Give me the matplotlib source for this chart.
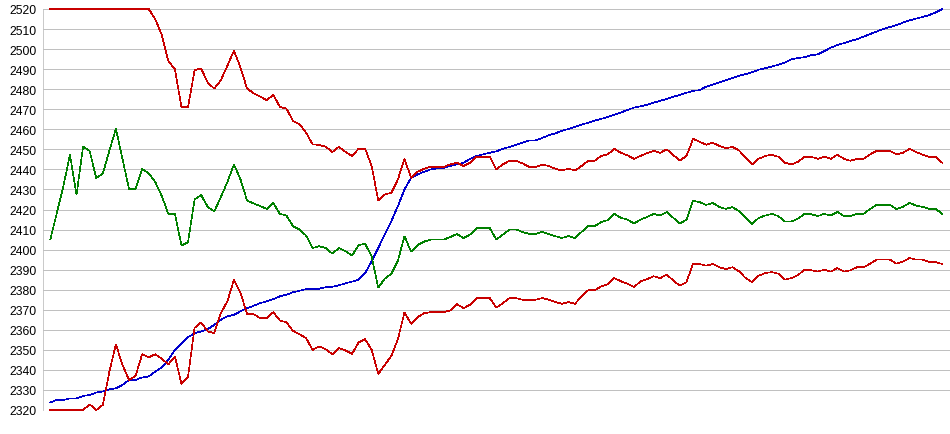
import matplotlib
matplotlib.use("Agg")
import matplotlib.pyplot as plt
from matplotlib.ticker import MultipleLocator

# ─────────────────────────────────────────────
#  DATA  (one value per bar)
# ─────────────────────────────────────────────
upper_band = [
    2520, 2520, 2520, 2520, 2520, 2520, 2520, 2520, 2520, 2520, 2520, 2520, 2520, 2520, 2520, 2520,
    2515, 2507, 2494, 2490, 2471, 2471, 2489.5,
    2490.3, 2483.3, 2480.3, 2484.5, 2491.7, 2499.2, 2490.8, 2480.3, 2478, 2476.3, 2474.5, 2477.2,
    2471.2, 2470.3, 2464.2, 2462.5, 2458.3, 2452.5, 2452.2, 2451.3, 2448.7, 2451.3, 2448.7,
    2446.7, 2450.3, 2450.3, 2441.7, 2424.5, 2427.5, 2428.3, 2435, 2445.3, 2435.8, 2438.8, 2440.3,
    2441.3, 2441.3, 2441.3, 2442.5, 2443.3, 2441.7, 2443.3, 2446.3, 2446.3, 2446.3,
    2440, 2442.5, 2444.3, 2444.3, 2443, 2441.3, 2441.3, 2442.3, 2441.7, 2440.3, 2439.5, 2440.3,
    2439.5, 2441.7, 2444.3, 2444.3, 2446.7, 2447.5, 2450.2, 2448.3, 2447, 2445.3, 2446.7, 2448.2,
    2449.2, 2448.3, 2450, 2447, 2444.5, 2446.7, 2455.2, 2453.8, 2452.3, 2453.3, 2451.7, 2450.5,
    2451.2, 2449.5, 2445.8, 2442.5, 2445.3, 2446.7, 2447.3, 2446.3, 2443.3, 2442.5, 2443.8,
    2446.3, 2446.3, 2445.3, 2446.3, 2445.3, 2447.3, 2445.3, 2444.3, 2445.3, 2445.3, 2447.5,
    2449.3, 2449.3, 2449.3, 2447.5, 2448.3, 2450.2, 2448.7, 2447.3, 2446.3, 2446.3, 2443.3,
]

middle_band = [
    2405, 2418.3, 2431.7, 2447.3, 2427.3, 2451.5, 2449.2, 2435.7, 2437.8, 2449.2, 2460.3, 2445.3,
    2430.3, 2430.3, 2440.3, 2438, 2433.7, 2426.7, 2417.8, 2417.8, 2402, 2403.7, 2425,
    2427.2, 2421.3, 2419, 2426.2, 2433.7, 2442.5, 2435, 2424.5, 2423, 2421.7, 2420.3, 2423.2,
    2417.8, 2417, 2411.7, 2410, 2407, 2400.8, 2401.7, 2400.8, 2398, 2400.8, 2399.2,
    2397, 2402.2, 2403, 2396.5, 2381, 2385.5, 2388, 2394.5, 2406.7, 2399, 2402.3, 2404,
    2405, 2405, 2405, 2406.3, 2407.8, 2405.7, 2407.5, 2410.8, 2410.8, 2410.8,
    2405, 2407.5, 2410, 2410, 2408.8, 2407.8, 2407.8, 2408.8, 2407.8, 2406.7, 2405.8, 2406.7,
    2405.8, 2408.8, 2411.7, 2411.7, 2413.7, 2414.7, 2417.8, 2415.8, 2415, 2413, 2415, 2416.3,
    2417.8, 2417, 2418.8, 2415.8, 2413, 2415, 2424.3, 2423.7, 2422.3, 2423.3, 2421.3, 2420.3,
    2421.2, 2419.2, 2415.8, 2412.8, 2415.8, 2417, 2417.8, 2416.7, 2414, 2414, 2415.5,
    2417.8, 2417.7, 2416.7, 2417.8, 2417, 2418.8, 2416.7, 2416.7, 2417.8, 2417.8, 2420.3,
    2422.3, 2422.3, 2422.3, 2420.3, 2421.3, 2423.3, 2422, 2421.3, 2420.3, 2420.3, 2417.8,
]

lower_band = [
    2320, 2320, 2320, 2320, 2320, 2320, 2322.8, 2320, 2322.5, 2339, 2352.8, 2342.5,
    2335, 2337, 2347.8, 2346.3, 2347.8, 2345.5, 2342.8, 2346.7, 2333, 2336.7, 2361,
    2363.7, 2359.2, 2358.3, 2368.3, 2374.2, 2385, 2378.3, 2368, 2367.8, 2365.8, 2365.8, 2368.8,
    2364.7, 2363.7, 2359.5, 2357.8, 2355.8, 2350, 2351.7, 2350.3, 2347.8, 2350.8, 2349.7,
    2348, 2353.7, 2355.3, 2350, 2338, 2342.5, 2347, 2355.3, 2368.7, 2363, 2366.3, 2368.3,
    2368.8, 2368.8, 2368.8, 2369.7, 2372.8, 2370.8, 2372.5, 2375.8, 2375.8, 2375.8,
    2371, 2373.3, 2375.8, 2375.8, 2375, 2375, 2375, 2375.8, 2375, 2373.8, 2373, 2373.8,
    2373, 2376.7, 2379.7, 2379.7, 2381.7, 2382.8, 2385.8, 2384.2, 2383, 2381.3, 2384.2, 2385.3,
    2386.7, 2385.8, 2387.5, 2384.5, 2382, 2383.8, 2393, 2392.8, 2392, 2392.8, 2391.2, 2390.3,
    2391.2, 2389.2, 2385.8, 2383.8, 2387, 2388.3, 2388.8, 2388, 2385, 2385.8, 2387.3,
    2390, 2389.7, 2389, 2390, 2389, 2390.8, 2389, 2389.7, 2391.2, 2391.2, 2393,
    2395, 2395, 2395, 2393, 2394, 2395.8, 2395, 2395, 2393.8, 2393.8, 2392.8,
]

price = [
    2323.8, 2325, 2325, 2325.8, 2325.8, 2327, 2327.5, 2328.7, 2329.2, 2330.3, 2330.8, 2332.5,
    2335, 2335, 2336.2, 2336.7, 2339.2, 2341.3, 2345, 2350, 2353.3, 2356.3, 2358.3,
    2359.2, 2360.3, 2362.5, 2365, 2366.7, 2367.5, 2369.2, 2370.8, 2372, 2373.3, 2374.2, 2375.3,
    2376.7, 2377.5, 2378.7, 2379.5, 2380.3, 2380.3, 2380.5, 2381.2, 2381.5, 2382.2, 2383.2,
    2384, 2385, 2388.3, 2394.2, 2400.8, 2407.5, 2414.2, 2421.7, 2430, 2435.8, 2437.5, 2438.8,
    2440, 2440.5, 2440.8, 2441.7, 2442.5, 2443.3, 2445.3, 2446.7, 2447.5, 2448.3,
    2449, 2450.3, 2451.2, 2452.3, 2453.3, 2454.5, 2454.5, 2455.7, 2457, 2458, 2459.2, 2460.2,
    2461.3, 2462.3, 2463.3, 2464.3, 2465.2, 2466.2, 2467.2, 2468.3, 2469.7, 2470.8, 2471.5, 2472.2,
    2473.3, 2474.2, 2475.2, 2476.2, 2477.2, 2478.2, 2479.2, 2479.5, 2481.3, 2482.3, 2483.3, 2484.5,
    2485.5, 2486.7, 2487.5, 2488.5, 2489.7, 2490.5, 2491.3, 2492.2, 2493.3, 2495, 2495.5,
    2496, 2497, 2497.3, 2499, 2500.7, 2502, 2503, 2504, 2505, 2506.2, 2507.5,
    2508.8, 2510, 2511, 2512, 2513.2, 2514.3, 2515.2, 2516, 2517, 2518.3, 2520,
]

Y_MIN, Y_MAX, Y_STEP = 2320, 2520, 10

# ─────────────────────────────────────────────
#  FIGURE
# ─────────────────────────────────────────────
W, H = 950, 435
fig = plt.figure(figsize=(W / 100, H / 100), dpi=100, facecolor="white")
# plot box in pixels: left 43, top 10, bottom 411, right edge of canvas
ax = fig.add_axes([43.3 / W, (H - 411) / H, 1 - 43.3 / W, 401 / H])

n = len(price)
bar_px = 892 / (n - 1)                       # first bar at x=50, last at x=942
ax.set_xlim(-7.0 / bar_px, (n - 1) + 7.7 / bar_px)
ax.set_ylim(Y_MIN, Y_MAX)

x = list(range(n))
# thin, aliased 1px strokes like the original
line_kw = dict(linewidth=0.45, antialiased=False, clip_on=False, solid_joinstyle="miter")
ax.plot(x, price, color="#0000CC", zorder=3, **line_kw)
ax.plot(x, upper_band, color="#C80000", zorder=4, **line_kw)
ax.plot(x, middle_band, color="#008000", zorder=4, **line_kw)
ax.plot(x, lower_band, color="#C80000", zorder=4, **line_kw)

# grid + axis styling
ax.yaxis.set_major_locator(MultipleLocator(Y_STEP))
ax.set_xticks([])
ax.grid(axis="y", color="#C0C0C0", linewidth=0.6, antialiased=False)
ax.set_axisbelow(True)
for side in ("top", "right", "bottom"):
    ax.spines[side].set_visible(False)
ax.spines["left"].set_color("#C0C0C0")
ax.spines["left"].set_linewidth(0.6)

ax.tick_params(axis="y", length=0, pad=4.8, labelsize=8.7, labelcolor="#000000")
for lbl in ax.get_yticklabels():
    lbl.set_fontfamily(["Liberation Sans", "DejaVu Sans"])

fig.savefig("out.png", dpi=100, facecolor="white")
